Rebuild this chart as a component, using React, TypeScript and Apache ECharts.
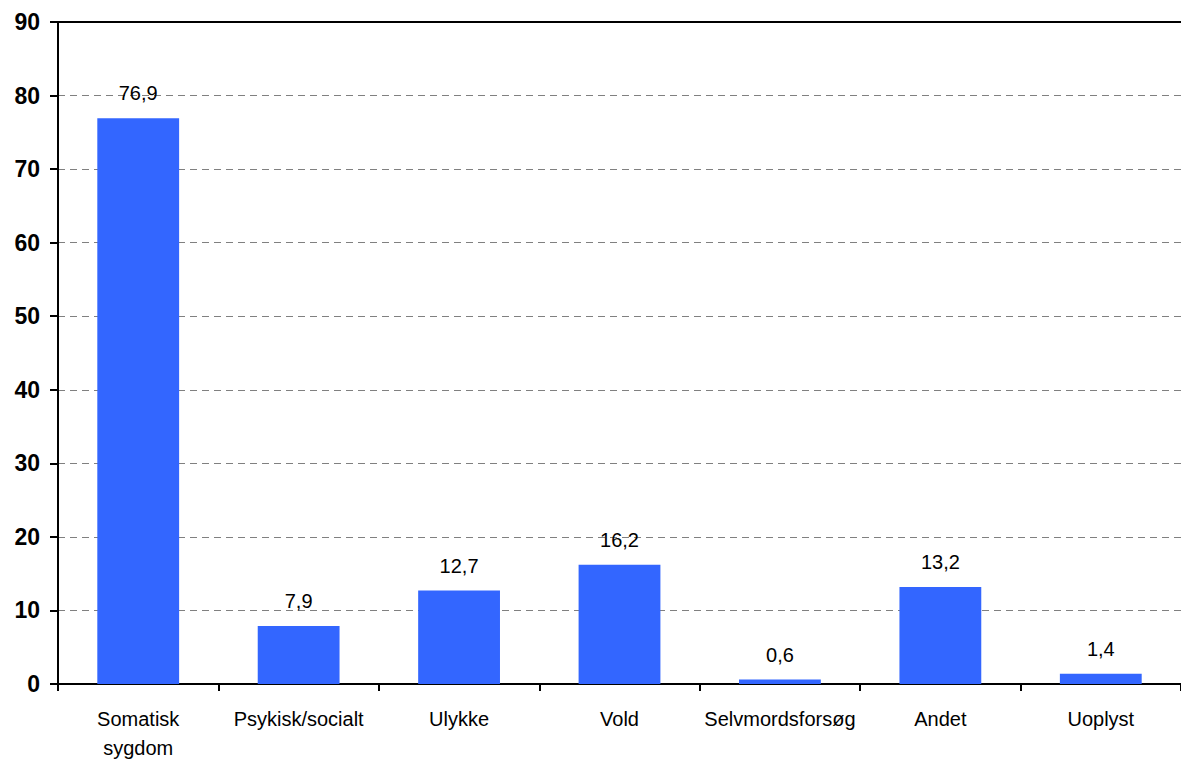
import React, { useEffect, useRef } from "react";
import * as echarts from "echarts";

const categories = ["Somatisk\nsygdom", "Psykisk/socialt", "Ulykke", "Vold", "Selvmordsforsøg", "Andet", "Uoplyst"];
const values = [76.9, 7.9, 12.7, 16.2, 0.6, 13.2, 1.4];
const yTicks = { min: 0, max: 90, interval: 10 };

export default function App() {
  const ref = useRef<HTMLDivElement>(null);
  useEffect(() => {
    if (!ref.current) return;
    const chart = echarts.init(ref.current, undefined, { renderer: "svg" });
    const font = "Arial, 'Liberation Sans', Helvetica, sans-serif";
    chart.setOption({
      animation: false,
      grid: { left: 58, right: 0, top: 22, bottom: 74, containLabel: false },
      xAxis: [
        {
          type: "category",
          data: categories,
          boundaryGap: true,
          axisLine: { show: true, lineStyle: { color: "#000", width: 2 } },
          axisTick: { show: true, length: 7, lineStyle: { color: "#000", width: 2 } },
          axisLabel: { color: "#000", fontSize: 20, fontFamily: font, margin: 20, lineHeight: 29, interval: 0 },
          splitLine: { show: false },
        },
        {
          type: "category",
          data: categories,
          position: "top",
          axisLine: { show: true, lineStyle: { color: "#000", width: 2 } },
          axisTick: { show: false },
          axisLabel: { show: false },
        },
      ],
      yAxis: {
        type: "value",
        min: yTicks.min,
        max: yTicks.max,
        interval: yTicks.interval,
        axisLine: { show: true, lineStyle: { color: "#000", width: 2 } },
        axisTick: { show: true, length: 8, lineStyle: { color: "#000", width: 2 } },
        axisLabel: { color: "#000", fontSize: 23, fontWeight: "bold", fontFamily: font, margin: 18 },
        splitLine: { show: true, lineStyle: { color: "#808080", type: [7, 5], width: 1 } },
      },
      series: [
        {
          type: "bar",
          data: values,
          barWidth: "51%",
          itemStyle: { color: "#3366FF" },
          label: {
            show: true,
            position: "top",
            distance: 15,
            color: "#000",
            fontSize: 20,
            fontFamily: font,
            formatter: (p: any) => String(p.value).replace(".", ","),
          },
        },
      ],
    });
    return () => chart.dispose();
  }, []);
  return <div ref={ref} style={{ width: 1181, height: 762, position: "absolute", left: 0, top: 0 }} />;
}
